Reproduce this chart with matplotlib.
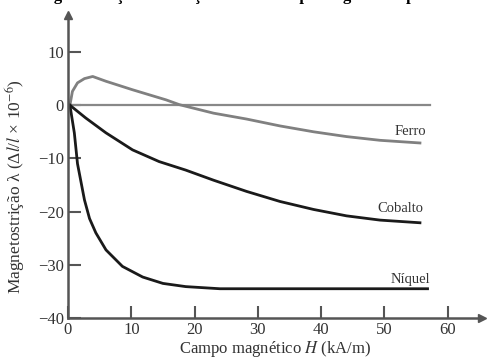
import matplotlib
matplotlib.use("Agg")
import matplotlib.pyplot as plt

plt.rcParams['font.family'] = ['Liberation Serif', 'DejaVu Serif']
plt.rcParams['mathtext.fontset'] = 'stix'

ferro_H = [0.3, 0.7, 1.5, 2.6, 3.9, 6.0, 10.2, 15.5, 17.6, 23.0, 28.2, 33.5, 38.8, 44.0, 49.3, 55.6]
ferro = [0, 2.6, 4.2, 5.0, 5.4, 4.5, 2.9, 1.0, 0.1, -1.5, -2.6, -3.9, -5.0, -5.9, -6.6, -7.1]

cobalto_H = [0.3, 2.8, 6.0, 10.2, 14.4, 18.6, 23.0, 28.2, 33.5, 38.8, 44.0, 49.3, 55.6]
cobalto = [0, -2.4, -5.2, -8.4, -10.6, -12.2, -14.1, -16.2, -18.1, -19.6, -20.8, -21.6, -22.1]

niquel_H = [0.3, 1.0, 1.5, 2.6, 3.4, 4.4, 6.0, 8.6, 11.8, 15.0, 18.6, 24.0, 35.0, 45.0, 56.8]
niquel = [0, -5.2, -11.0, -17.8, -21.3, -24.0, -27.2, -30.3, -32.3, -33.5, -34.1, -34.5, -34.5, -34.5, -34.5]

zero_H = [0, 57.2]
zero = [0, 0]

labels = ["Ferro", "Cobalto", "Níquel"]
label_pos = [(56.6, -5.0), (56.2, -19.5), (57.2, -32.8)]

xticks = [0, 10, 20, 30, 40, 50, 60]
yticks = [-40, -30, -20, -10, 0, 10]

fig = plt.figure(figsize=(4.88, 3.61), dpi=100)
ax = fig.add_axes([68/488, 1-318/361, (482-68)/488, (318-15)/361])
ax.set_xlim(0, (482-68)/6.33)
ax.set_ylim(-40, -40 + (318-15)/5.32)

axcol = '#555555'
for s in ['top', 'right']:
    ax.spines[s].set_visible(False)
for s in ['left', 'bottom']:
    ax.spines[s].set_color(axcol)
    ax.spines[s].set_linewidth(1.8)

ax.plot(1, 0, '>', color=axcol, markersize=6, transform=ax.transAxes, clip_on=False)
ax.plot(0, 1, '^', color=axcol, markersize=6, transform=ax.transAxes, clip_on=False)

ax.plot(zero_H, zero, color='#888888', lw=1.6)
ax.plot(ferro_H, ferro, color='#808080', lw=2.0, solid_joinstyle='round')
ax.plot(cobalto_H, cobalto, color='#1a1a1a', lw=2.0, solid_joinstyle='round')
ax.plot(niquel_H, niquel, color='#1a1a1a', lw=2.0, solid_joinstyle='round')

for lab, (x, y) in zip(labels, label_pos):
    ax.text(x, y, lab, ha='right', va='center', fontsize=10.5, color='#333333')

ax.set_xticks(xticks)
ax.set_yticks(yticks)
ax.tick_params(direction='in', length=9, width=1.5, color=axcol, labelsize=12,
               labelcolor='#333333', pad=3)
ax.set_xlabel('Campo magnético $H$ (kA/m)', fontsize=12, color='#333333', labelpad=0.5)
fig.text(15/488, 1-187/361, 'Magnetostrição λ (Δ$l$/$l$ × 10$^{-6}$)', rotation=90,
         ha='center', va='center', fontsize=12.5, color='#333333')

fig.text(0.5, 1-0.5/361, 'Magnetostrição em função de um campo magnético aplicado',
         ha='center', va='baseline', fontsize=12, fontweight='bold')

fig.savefig('out.png', dpi=100)
